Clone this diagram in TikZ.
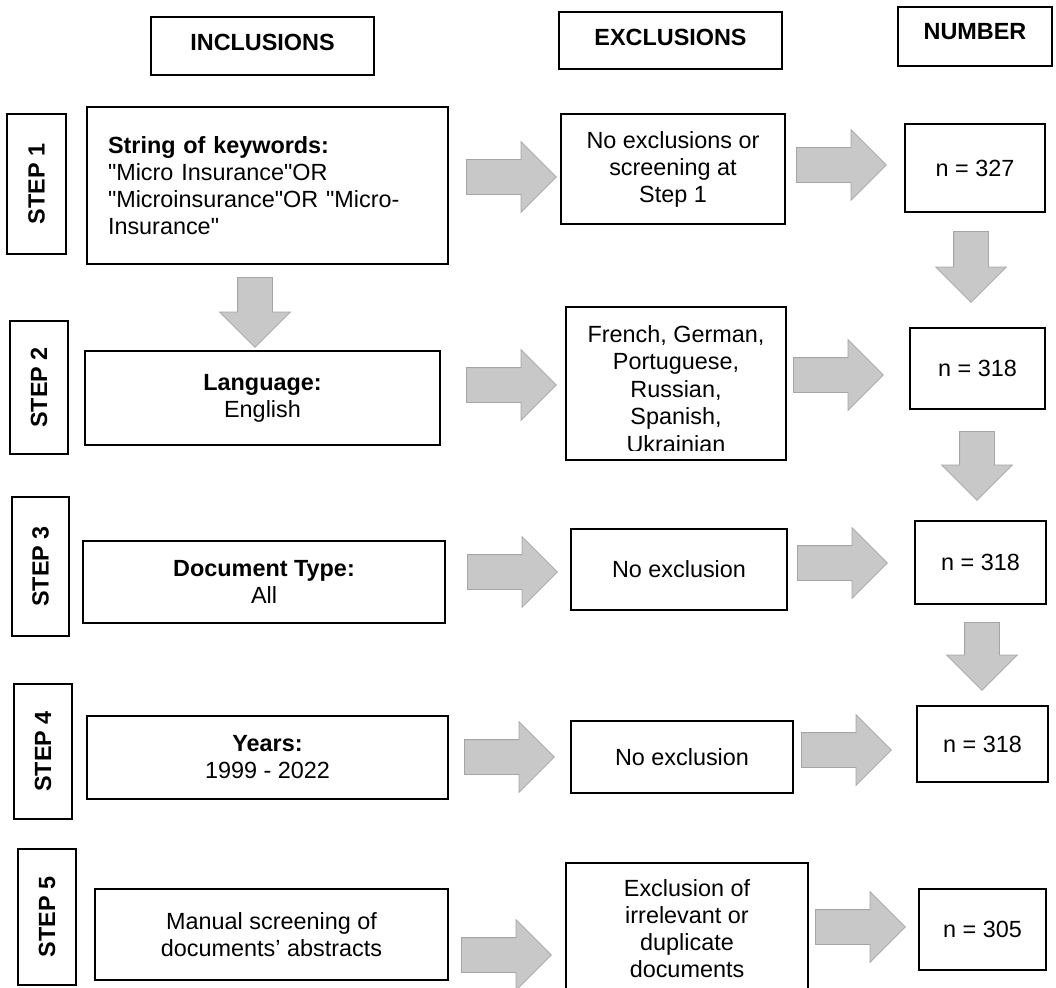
\documentclass[tikz,border=0pt]{standalone}
\usepackage{fontspec}
\setmainfont{Liberation Sans}[Ligatures=TeXOff]
\usetikzlibrary{shapes.arrows}
\definecolor{arrfill}{RGB}{200,200,200}
\definecolor{arrdraw}{RGB}{165,165,165}
\begin{document}
\begin{tikzpicture}[x=1pt,y=-1pt,
  every node/.style={font=\fontsize{23.4}{27}\selectfont},
  box/.style={draw=black, line width=1.6pt, inner sep=0pt, align=center},
  headbox/.style={box, font=\fontsize{23.4}{27}\selectfont\bfseries},
  steplbl/.style={box, rotate=90, font=\fontsize{23.4}{27}\selectfont\bfseries},
  harr/.style={single arrow, draw=arrdraw, fill=arrfill, line width=0.8pt,
    inner sep=17pt, minimum height=90pt, single arrow head extend=18pt,
    single arrow tip angle=90, anchor=tail},
  varr/.style={harr, shape border rotate=270, minimum height=70pt}
]
\useasboundingbox (0,0) rectangle (1056,987);

% headers
\node[headbox, minimum width=223pt, minimum height=58pt, text depth=7pt] (HI) at (262.5,46) {INCLUSIONS};
\node[headbox, minimum width=223pt, minimum height=57pt, text depth=6pt] (HE) at (670.5,40.5) {EXCLUSIONS};
\node[headbox, minimum width=154pt, minimum height=59pt, text depth=10pt] (HN) at (975,36.5) {NUMBER};

% step labels
\node[steplbl, minimum width=140pt, minimum height=59pt] (S1) at (36.5,184) {STEP 1};
\node[steplbl, minimum width=133pt, minimum height=58pt] (S2) at (39,387.5) {STEP 2};
\node[steplbl, minimum width=139pt, minimum height=57pt] (S3) at (40.5,566.5) {STEP 3};
\node[steplbl, minimum width=135pt, minimum height=58pt] (S4) at (43,751.5) {STEP 4};
\node[steplbl, minimum width=136pt, minimum height=58pt] (S5) at (47,917) {STEP 5};

% inclusion boxes
\node[box, minimum width=361pt, minimum height=157pt, text width=319pt, inner xsep=21pt, align=left] (I1) at (267.5,185.5)
  {\textbf{String of keywords:}\\"Micro Insurance"OR\\"Microinsurance"OR "Micro-\\Insurance"};
\node[box, minimum width=355pt, minimum height=94pt] (I2) at (262.5,398) {\textbf{Language:}\\English};
\node[box, minimum width=362pt, minimum height=82pt] (I3) at (264,582) {\textbf{Document Type:}\\All};
\node[box, minimum width=361pt, minimum height=83pt] (I4) at (267.5,757.5) {\textbf{Years:}\\1999 - 2022};
\node[box, minimum width=353pt, minimum height=91pt] (I5) at (271.5,934.5) {Manual screening of\\documents’ abstracts};

% exclusion boxes
\node[box, minimum width=224pt, minimum height=110pt] (E1) at (673,169) {No exclusions or\\screening at\\Step 1};
\node[box, minimum width=220pt, minimum height=153pt] (E2) at (676,383.5) {};
\begin{scope}
  \clip (566,307) rectangle (786,450);
  \node[align=center, inner sep=0pt, anchor=north, font=\fontsize{23.4}{27.5}\selectfont] (E2t) at (676,325)
    {French, German,\\Portuguese,\\Russian,\\Spanish,\\Ukrainian};
\end{scope}
\node[box, minimum width=216pt, minimum height=81pt] (E3) at (679,569.5) {No exclusion};
\node[box, minimum width=222pt, minimum height=72pt] (E4) at (682,757) {No exclusion};
\node[box, minimum width=242pt, minimum height=131pt] (E5) at (687,928.5) {Exclusion of\\irrelevant or\\duplicate\\documents};

% number boxes
\node[box, minimum width=140pt, minimum height=88pt] (N1) at (975,168) {n = 327};
\node[box, minimum width=135pt, minimum height=81pt] (N2) at (977.5,368.5) {n = 318};
\node[box, minimum width=131pt, minimum height=83pt] (N3) at (980.5,562.5) {n = 318};
\node[box, minimum width=131pt, minimum height=76pt] (N4) at (982.5,744) {n = 318};
\node[box, minimum width=127pt, minimum height=81pt] (N5) at (982.5,929.5) {n = 305};

% arrows inclusions -> exclusions
\node[harr] (A1) at (466,177) {};
\node[harr] (A2) at (466,385) {};
\node[harr] (A3) at (467,572) {};
\node[harr] (A4) at (464,757) {};
\node[harr] (A5) at (461,955) {};

% arrows exclusions -> number
\node[harr] (B1) at (796,165) {};
\node[harr] (B2) at (793,375) {};
\node[harr] (B3) at (797,563) {};
\node[harr] (B4) at (801,750) {};
\node[harr] (B5) at (815,927) {};

% vertical arrows
\node[varr] (V0) at (255,277) {};
\node[varr, minimum height=71pt] (V1) at (971,231) {};
\node[varr, minimum height=69pt] (V2) at (977,431) {};
\node[varr, minimum height=68pt] (V3) at (982,622) {};
\end{tikzpicture}
\end{document}
